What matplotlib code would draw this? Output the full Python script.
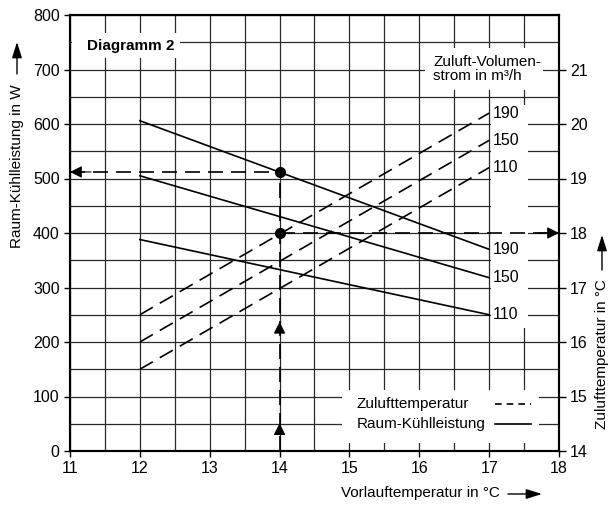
import numpy as np
import matplotlib
matplotlib.use("Agg")
import matplotlib.pyplot as plt
from matplotlib.patches import Rectangle

plt.rcParams['font.family'] = ['Liberation Sans', 'DejaVu Sans']
plt.rcParams['font.size'] = 11

# --------------------------------
# data
# --------------------------------
vorlauf = [12, 17]                      # Vorlauftemperatur in °C
flow_labels = ["110", "150", "190"]     # Zuluft-Volumenstrom in m³/h

kuehl_110 = [388, 250]                  # Raum-Kühlleistung in W
kuehl_150 = [505, 318]
kuehl_190 = [606, 370]

zuluft_110 = [15.5, 19.2]               # Zulufttemperatur in °C
zuluft_150 = [16.0, 19.7]
zuluft_190 = [16.5, 20.2]

op_vorlauf = 14                         # example operating point
op_kuehl = 512
op_zuluft = 18

legend_labels = ["Zulufttemperatur", "Raum-Kühlleistung"]

DASH = (9, 4.8)
W, H = 609, 505

fig = plt.figure(figsize=(W / 100, H / 100), dpi=100)
ax = fig.add_axes([70 / W, 1 - 451 / H, 489 / W, 436 / H])
ax.set_xlim(11, 18)
ax.set_ylim(0, 800)
ax.set_xticks(range(11, 19))
ax.set_xticks(np.arange(11.5, 18, 1), minor=True)
ax.set_yticks(range(0, 801, 100))
ax.set_yticks(range(50, 800, 100), minor=True)
ax.grid(which='both', color='#2a2a2a', lw=0.9)
ax.set_axisbelow(True)
ax.tick_params(which='major', direction='out', length=4.5, width=1, labelsize=11.5, pad=3)
ax.tick_params(which='minor', length=0)

ax2 = ax.twinx()
ax2.set_ylim(14, 22)
ax2.set_yticks(range(14, 22))
ax2.tick_params(which='major', direction='out', length=5, width=1, labelsize=11.5, pad=3)
for a in (ax, ax2):
    for s in a.spines.values():
        s.set_linewidth(1.5)

# white areas that hide the grid behind the texts
for (x0, y0, w, h) in [(11.03, 721, 1.54, 46), (16.08, 662, 1.69, 77),
                       (17.02, 225, 0.53, 410), (14.9, 15, 2.82, 97)]:
    ax.add_patch(Rectangle((x0, y0), w, h, fc='white', ec='none', zorder=1))

# curves
for lab, k, z in zip(flow_labels, [kuehl_110, kuehl_150, kuehl_190],
                     [zuluft_110, zuluft_150, zuluft_190]):
    ax.plot(vorlauf, k, color='k', lw=1.2, zorder=3)
    ax2.plot(vorlauf, z, color='k', lw=1.2, dashes=DASH)
    ax.text(17.05, k[-1], lab, va='center', ha='left', fontsize=11.5)
    ax2.text(17.05, z[-1], lab, va='center', ha='left', fontsize=11.5)

# operating point with reading lines
ax.plot([11, op_vorlauf], [op_kuehl, op_kuehl], color='k', lw=1.2, dashes=DASH, zorder=3)
ax.plot([op_vorlauf, op_vorlauf], [0, op_kuehl], color='k', lw=1.2, dashes=DASH, zorder=3)
ax2.plot([op_vorlauf, 18], [op_zuluft, op_zuluft], color='k', lw=1.2, dashes=DASH)
ax.plot(op_vorlauf, op_kuehl, 'o', color='k', ms=7, zorder=4)
ax2.plot(op_vorlauf, op_zuluft, 'o', color='k', ms=7)

head = dict(arrowstyle='-|>,head_length=0.6,head_width=0.3', fc='k', ec='k',
            lw=0.8, shrinkA=0, shrinkB=0, mutation_scale=12)
ax.annotate('', xy=(11.0, op_kuehl), xytext=(11.3, op_kuehl), arrowprops=head)
ax2.annotate('', xy=(18.0, op_zuluft), xytext=(17.7, op_zuluft), arrowprops=head)
ax.annotate('', xy=(op_vorlauf, 51), xytext=(op_vorlauf, 35), arrowprops=head)
ax.annotate('', xy=(op_vorlauf, 237), xytext=(op_vorlauf, 220), arrowprops=head)

# texts
ax.text(11.24, 743, "Diagramm 2", fontweight='bold', va='center', ha='left', zorder=5)
ax.text(16.2, 700, "Zuluft-Volumen-\nstrom in m³/h", va='center', ha='left',
        linespacing=1.0, zorder=5)

# hand made legend (text left, line sample right)
for lab, y, ls in zip(legend_labels, [86, 50], [DASH, None]):
    ax.text(15.1, y, lab, va='center', ha='left', zorder=5)
    ln, = ax.plot([17.08, 17.6], [y, y], color='k', lw=1.2, zorder=5)
    if ls:
        ln.set_dashes((4, 3))

# axis labels with arrows
fig.text(17 / W, 1 - 166 / H, "Raum-Kühlleistung in W", rotation=90,
         ha='center', va='center', fontsize=11)
fig.text(602 / W, 1 - 354 / H, "Zulufttemperatur in °C", rotation=90,
         ha='center', va='center', fontsize=11)
fig.text(420 / W, 1 - 493 / H, "Vorlauftemperatur in °C",
         ha='center', va='center', fontsize=11)

arr = dict(arrowstyle='-|>,head_length=0.8,head_width=0.25', fc='k', ec='k',
           lw=1.0, shrinkA=0, shrinkB=0, mutation_scale=12)
for xy, xyt in [((17, 42), (17, 74)), ((602, 235), (602, 270)), ((542, 494), (508, 494))]:
    ax.annotate('', xy=(xy[0] / W, 1 - xy[1] / H), xytext=(xyt[0] / W, 1 - xyt[1] / H),
                xycoords='figure fraction', textcoords='figure fraction',
                arrowprops=arr, annotation_clip=False)

fig.savefig("out.png", dpi=100)
